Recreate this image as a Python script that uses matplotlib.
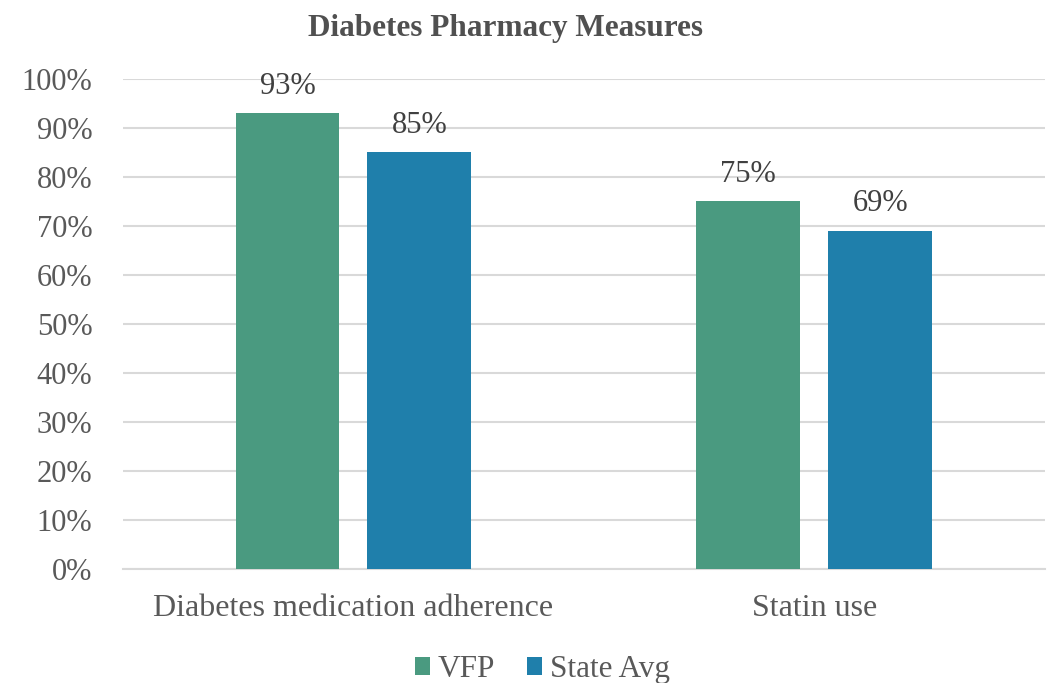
import matplotlib.pyplot as plt
import numpy as np

categories = ['Diabetes medication adherence', 'Statin use']
series_names = ['VFP', 'State Avg']
vfp = [93, 75]
state_avg = [85, 69]
colors = ['#4a9a80', '#1f7fab']

plt.rcParams['font.family'] = ['Liberation Serif', 'DejaVu Serif']

fig = plt.figure(figsize=(10.51, 6.83), dpi=100)
ax = fig.add_axes([0.117, 0.167, 0.877, 0.7175])

x = np.arange(len(categories))
w = 0.2256
off = 0.143
for vals, name, c, d in [(vfp, series_names[0], colors[0], -off), (state_avg, series_names[1], colors[1], off)]:
    bars = ax.bar(x + d, vals, width=w, color=c, label=name, zorder=3)
    for b, v in zip(bars, vals):
        ax.annotate(f'{v}%', (b.get_x() + b.get_width() / 2, v), xytext=(0, 9),
                    textcoords='offset points', ha='center', va='bottom',
                    fontsize=22, color='#404040')

ax.set_xlim(-0.5, 1.5)
ax.set_ylim(0, 100)
ax.set_yticks(range(0, 101, 10))
ax.set_yticklabels([f'{t}%' for t in range(0, 101, 10)])
ax.set_xticks(x)
ax.set_xticklabels(categories, fontsize=23)
ax.tick_params(axis='y', labelsize=22)
ax.tick_params(axis='both', length=0, labelcolor='#595959')
ax.tick_params(axis='x', pad=18)
ax.tick_params(axis='y', pad=22)
ax.grid(axis='y', color='#d9d9d9', linewidth=1.5, zorder=0)
for s in ['top', 'right', 'left']:
    ax.spines[s].set_visible(False)
ax.spines['bottom'].set_color('#d9d9d9')
ax.spines['bottom'].set_linewidth(1.5)

fig.suptitle('Diabetes Pharmacy Measures', x=0.4805, y=0.98, fontsize=22.5,
             fontweight='bold', color='#505050')

leg = fig.legend(loc='lower center', bbox_to_anchor=(0.516, -0.043), ncol=2, frameon=False,
                 fontsize=22.5, handlelength=0.5, handleheight=0.5, handletextpad=0.25,
                 columnspacing=1.0)
for t in leg.get_texts():
    t.set_color('#595959')

fig.savefig('out.png', dpi=100)
